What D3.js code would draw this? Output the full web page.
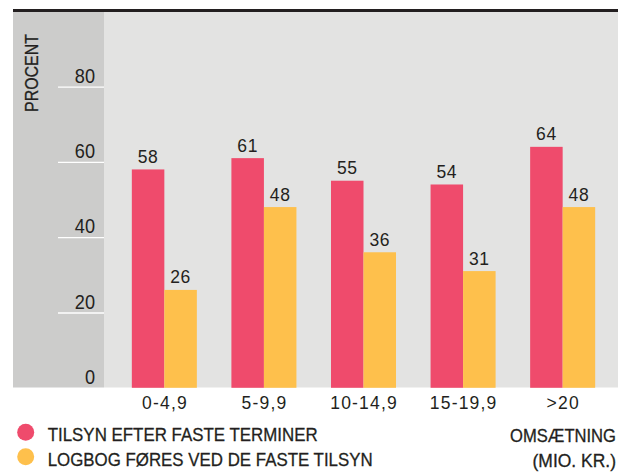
<!DOCTYPE html>
<html><head><meta charset="utf-8">
<script src="https://cdn.jsdelivr.net/npm/d3@7"></script>
<style>
body{margin:0;background:#fff;}
svg{display:block;}
.num{font-family:"Liberation Sans",Arial,sans-serif;fill:#231f20;}
.txt{font-family:"Liberation Sans",Arial,sans-serif;fill:#231f20;stroke:#231f20;stroke-width:0.3px;}
</style></head>
<body>
<svg id="c" width="621" height="475"></svg>
<script>
const categories = ["0-4,9","5-9,9","10-14,9","15-19,9",">20"];
const seriesNames = ["TILSYN EFTER FASTE TERMINER","LOGBOG FØRES VED DE FASTE TILSYN"];
const tilsyn = [58,61,55,54,64];
const logbog = [26,48,36,31,48];
const yTicks = [0,20,40,60,80];
const yTitle = "PROCENT";
const xTitle = ["OMSÆTNING","(MIO. KR.)"];
const colors = ["#ef4b6c","#fec04c"];

const svg = d3.select("#c");
const pLeft = 13, panelRight = 104, pRight = 618, pTop = 12, pBottom = 387.5;

const y = d3.scaleLinear().domain([0,100]).range([387.8, 11.3]);
const x = d3.scaleBand().domain(categories).range([114.5, 612.5]).paddingInner(0.347).paddingOuter(0.174);
const xs = d3.scaleBand().domain([0,1]).range([0, x.bandwidth()]).padding(0);

// backgrounds
svg.append("rect").attr("x",pLeft).attr("y",pTop).attr("width",panelRight-pLeft).attr("height",pBottom-pTop).attr("fill","#cccccb");
svg.append("rect").attr("x",panelRight).attr("y",pTop).attr("width",pRight-panelRight).attr("height",pBottom-pTop).attr("fill","#e3e3e2");
svg.append("rect").attr("x",pLeft).attr("y",9).attr("width",pRight-pLeft).attr("height",3).attr("fill","#231f20");

// y axis
const yAxis = d3.axisLeft(y).tickValues(yTicks).tickSize(0).tickPadding(0);
const ga = svg.append("g").attr("transform",`translate(${panelRight},0)`).call(yAxis);
ga.select(".domain").remove();
ga.selectAll(".tick line").remove();
ga.selectAll(".tick").each(function(d){
  const g = d3.select(this);
  if (d !== 0) g.append("line").attr("x1",58-panelRight).attr("x2",0).attr("y1",0).attr("y2",0).attr("stroke","#ffffff").attr("stroke-width",1.3);
  g.select("text").attr("class","num").attr("x",95-panelRight).attr("dy",null).attr("y",-4.5)
   .attr("font-size",19.5).attr("text-anchor","end").attr("fill","#231f20")
   .attr("textLength",function(){return this.getComputedTextLength()*0.93;}).attr("lengthAdjust","spacingAndGlyphs");
});

// y title
svg.append("text").attr("class","txt").attr("transform","translate(37.5,73) rotate(-90)")
  .attr("text-anchor","middle").attr("font-size",18).text(yTitle)
  .attr("textLength",78).attr("lengthAdjust","spacingAndGlyphs");

// bars
const data = categories.map((c,i)=>({c, v:[tilsyn[i],logbog[i]]}));
const groups = svg.selectAll("g.grp").data(data).join("g").attr("class","grp")
  .attr("transform",d=>`translate(${x(d.c)},0)`);
groups.selectAll("rect").data(d=>d.v.map((v,k)=>({v,k}))).join("rect")
  .attr("x",d=>xs(d.k)).attr("width",xs.bandwidth())
  .attr("y",d=>y(d.v)).attr("height",d=>y(0)-y(d.v)).attr("fill",d=>colors[d.k]);
groups.selectAll("text").data(d=>d.v.map((v,k)=>({v,k}))).join("text").attr("class","num")
  .attr("x",d=>xs(d.k)+xs.bandwidth()/2).attr("y",d=>y(d.v)-6.5)
  .attr("text-anchor","middle").attr("font-size",17.5).attr("letter-spacing",0.6).text(d=>d.v);

// x axis labels
const xAxis = d3.axisBottom(x).tickSize(0).tickPadding(0);
const gx = svg.append("g").call(xAxis);
gx.select(".domain").remove();
gx.selectAll(".tick text").attr("class","num").attr("y",409).attr("dy",null)
  .attr("font-size",17.5).attr("letter-spacing",1.2).attr("fill","#231f20").attr("dx",0.6);

// x title: right-aligned at x=616, squeezed with a horizontal scale
const xTitleW = [106, 83.5];
svg.selectAll("text.xt").data(xTitle).join("text").attr("class","txt xt")
  .attr("text-anchor","end").attr("font-size",18.5).text(d=>d)
  .each(function(d,i){
    const w = this.getComputedTextLength();
    d3.select(this).attr("transform",`translate(616,${441.7+i*25}) scale(${xTitleW[i]/w},1)`);
  });

// legend
const legendW = [270, 325];
const lg = svg.selectAll("g.lg").data(seriesNames).join("g").attr("class","lg")
  .attr("transform",(d,i)=>`translate(0,${432.3+i*24.4})`);
lg.append("circle").attr("cx",25.7).attr("cy",0).attr("r",8.5).attr("fill",(d,i)=>colors[i]);
lg.append("text").attr("class","txt").attr("x",47.7).attr("y",8.9).attr("font-size",19)
  .text(d=>d).attr("textLength",(d,i)=>legendW[i]).attr("lengthAdjust","spacingAndGlyphs");
</script>
</body></html>
